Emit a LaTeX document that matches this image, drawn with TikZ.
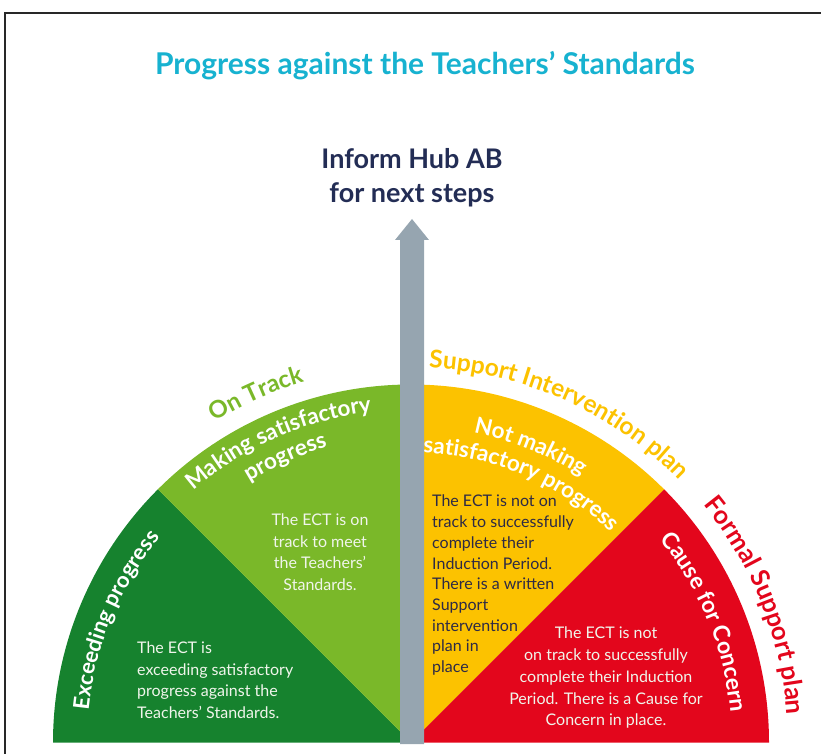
\documentclass[tikz,border=0pt]{standalone}
\usepackage{fontspec}
\setmainfont{Lato}
\usetikzlibrary{decorations.text,calc}
\definecolor{titlecyan}{RGB}{23,178,208}
\definecolor{navy}{RGB}{35,45,85}
\definecolor{dkgreen}{RGB}{22,130,46}
\definecolor{ltgreen}{RGB}{122,184,41}
\definecolor{sunyellow}{RGB}{252,194,0}
\definecolor{alertred}{RGB}{227,6,28}
\definecolor{bargray}{RGB}{150,165,176}
\definecolor{framegray}{RGB}{40,40,40}
\definecolor{softwhite}{RGB}{240,245,235}
\definecolor{darktext}{RGB}{45,42,70}
\tikzset{
  bodytext/.style={font=\fontsize{16}{21.5}\selectfont, inner sep=0pt},
  headtext/.style={font=\fontsize{27}{34}\selectfont\bfseries, text=navy, align=center},
}
\newcommand\arclabel[5]{%
  \path[decorate,decoration={text along path,text align=center,text={|#4|#5}}]
    ($(C)+(#1+#2:#3)$) arc[start angle=#1+#2, end angle=#1-#2, radius=#3];}
\begin{document}
\begin{tikzpicture}[x=1pt,y=1pt]
\useasboundingbox (0,0) rectangle (821,753);
\coordinate (C) at (411,10.5);
% frame
\draw[framegray, line width=2pt] (5,-2) -- (5,740) -- (823,740);
% title
\node[font=\fontsize{30}{32}\selectfont\bfseries, text=titlecyan] (title) at (425,687) {Progress against the Teachers’ Standards};
\node[headtext] (inform) at (412,575) {Inform Hub AB\\for next steps};
% sectors
\def\R{358}
\fill[dkgreen] (C) -- ($(C)+(180:\R)$) arc[start angle=180,end angle=135,radius=\R] -- cycle;
\fill[ltgreen] (C) -- ($(C)+(135:\R)$) arc[start angle=135,end angle=90,radius=\R] -- cycle;
\fill[sunyellow] (C) -- ($(C)+(90:\R)$) arc[start angle=90,end angle=45,radius=\R] -- cycle;
\fill[alertred] (C) -- ($(C)+(45:\R)$) arc[start angle=45,end angle=0,radius=\R] -- cycle;
% outer curved labels
\arclabel{114}{25}{376}{\fontsize{24}{24}\selectfont\bfseries\color{ltgreen}}{On Track}
\arclabel{65.8}{30}{375}{\fontsize{24.5}{24}\selectfont\bfseries\color{sunyellow}}{Support Intervention plan}
\arclabel{21.7}{25}{377}{\fontsize{25.5}{24}\selectfont\bfseries\color{alertred}}{Formal Support plan}
% inner curved labels
\arclabel{157.5}{25}{324}{\fontsize{22}{22}\selectfont\bfseries\color{white}}{Exceeding progress}
\arclabel{113.8}{25}{333}{\fontsize{22.5}{22}\selectfont\bfseries\color{white}}{Making satisfactory}
\arclabel{113.8}{25}{307}{\fontsize{22.5}{22}\selectfont\bfseries\color{white}}{progress}
\arclabel{68}{25}{316}{\fontsize{22.5}{22}\selectfont\bfseries\color{white}}{Not making}
\arclabel{67}{30}{290}{\fontsize{22.5}{22}\selectfont\bfseries\color{white}}{satisfactory progress}
\arclabel{22.3}{25}{321}{\fontsize{23}{22}\selectfont\bfseries\color{white}}{Cause for Concern}
% body texts
\node[bodytext, text=softwhite, anchor=north west, align=left] (exceedtext) at (137,111)
  {The ECT is\\exceeding satisfactory\\progress against the\\Teachers’ Standards.};
\node[bodytext, text=softwhite, anchor=north, align=center] (ontracktext) at (320,239)
  {The ECT is on\\track to meet\\the Teachers’\\Standards.};
\node[bodytext, text=darktext, anchor=north west, align=left, font=\fontsize{16}{20.7}\selectfont] (supporttext) at (432,258)
  {The ECT is not on\\track to successfully\\complete their\\Induction Period.\\There is a written\\Support\\intervention\\plan in\\place};
\node[bodytext, text=softwhite, anchor=north, align=center, font=\fontsize{16}{21.7}\selectfont] (concerntext) at (606,126)
  {The ECT is not\\on track to successfully\\complete their Induction\\Period. There is a Cause for\\Concern in place.};
% central arrow
\fill[bargray] (400,9) -- (400,513) -- (395,513) -- (412,534) -- (429,513) -- (424,513) -- (424,9) -- cycle;
\end{tikzpicture}
\end{document}
